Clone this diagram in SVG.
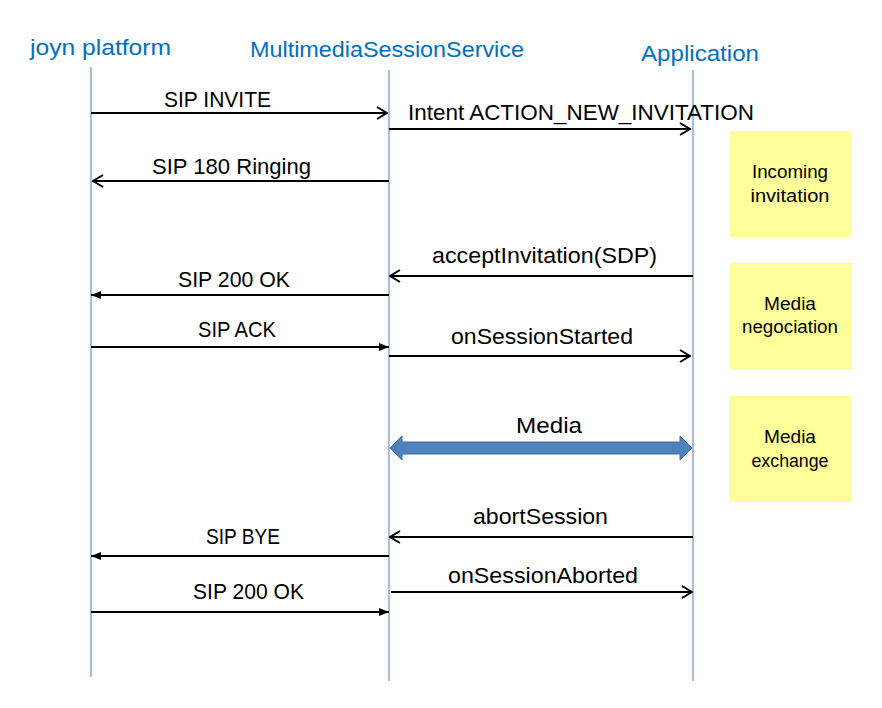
<svg xmlns="http://www.w3.org/2000/svg" width="882" height="708" viewBox="0 0 882 708">
<style>
.title{font-family:"Liberation Sans",Arial,sans-serif;font-size:21.5px;fill:#0070C0}
.lbl{font-family:"Liberation Sans",Arial,sans-serif;font-size:22.5px;fill:#000}
.box{fill:#FFFF99}
.btxt{font-family:"Liberation Sans",Arial,sans-serif;font-size:17.5px;fill:#000;text-anchor:middle}
.life{stroke:#4A7EBB;stroke-width:1;fill:none}
.msg{stroke:#000;stroke-width:2;fill:none}
.open{marker-end:url(#open)}
.fill{marker-end:url(#solid)}
</style>
<defs>
<marker id="open" viewBox="0 0 12 14" refX="11" refY="7" markerWidth="12" markerHeight="14" markerUnits="userSpaceOnUse" orient="auto">
<path d="M1,1 L11,7 L1,13" fill="none" stroke="#000" stroke-width="2"/>
</marker>
<marker id="solid" viewBox="0 0 10 10" refX="10" refY="5" markerWidth="10" markerHeight="10" markerUnits="userSpaceOnUse" orient="auto">
<path d="M0,1 L10,5 L0,9 Z" fill="#000"/>
</marker>
</defs>
<rect width="882" height="708" fill="#fff"/>
<g id="joyn">
<text class="title" x="30" y="55" textLength="141" lengthAdjust="spacingAndGlyphs">joyn platform</text>
<line class="life" x1="91" y1="67" x2="91" y2="677"/>
</g>
<g id="mss">
<text class="title" x="250" y="57" textLength="274" lengthAdjust="spacingAndGlyphs">MultimediaSessionService</text>
<line class="life" x1="389" y1="70" x2="389" y2="681"/>
</g>
<g id="app">
<text class="title" x="641" y="61" textLength="118" lengthAdjust="spacingAndGlyphs">Application</text>
<line class="life" x1="693" y1="70" x2="693" y2="681"/>
</g>
<g id="note-incoming">
<rect class="box" x="730" y="131" width="121" height="106"/>
<text class="btxt" x="790" y="178" textLength="76" lengthAdjust="spacingAndGlyphs">Incoming</text>
<text class="btxt" x="790" y="202" textLength="79" lengthAdjust="spacingAndGlyphs">invitation</text>
</g>
<g id="note-negociation">
<rect class="box" x="730" y="263" width="121" height="106"/>
<text class="btxt" x="790" y="310" textLength="52" lengthAdjust="spacingAndGlyphs">Media</text>
<text class="btxt" x="790" y="333" textLength="96" lengthAdjust="spacingAndGlyphs">negociation</text>
</g>
<g id="note-exchange">
<rect class="box" x="729" y="396" width="122" height="106"/>
<text class="btxt" x="790" y="443" textLength="52" lengthAdjust="spacingAndGlyphs">Media</text>
<text class="btxt" x="790" y="467" textLength="77" lengthAdjust="spacingAndGlyphs">exchange</text>
</g>
<g id="connectors">
<line class="msg open" x1="91" y1="113" x2="387" y2="113"/>
<text class="lbl" x="164" y="107" textLength="107" lengthAdjust="spacingAndGlyphs">SIP INVITE</text>
<line class="msg open" x1="389" y1="129" x2="690" y2="129"/>
<text class="lbl" x="408" y="120" textLength="346" lengthAdjust="spacingAndGlyphs">Intent ACTION_NEW_INVITATION</text>
<line class="msg open" x1="389" y1="181" x2="93" y2="181"/>
<text class="lbl" x="152" y="174" textLength="159" lengthAdjust="spacingAndGlyphs">SIP 180 Ringing</text>
<line class="msg open" x1="693" y1="276" x2="390" y2="276"/>
<text class="lbl" x="432" y="263" textLength="225" lengthAdjust="spacingAndGlyphs">acceptInvitation(SDP)</text>
<line class="msg fill" x1="389" y1="295" x2="91" y2="295"/>
<text class="lbl" x="178" y="287" textLength="112" lengthAdjust="spacingAndGlyphs">SIP 200 OK</text>
<line class="msg fill" x1="91" y1="347" x2="389" y2="347"/>
<text class="lbl" x="198" y="337" textLength="78" lengthAdjust="spacingAndGlyphs">SIP ACK</text>
<line class="msg open" x1="389" y1="356" x2="690" y2="356"/>
<text class="lbl" x="451" y="344" textLength="182" lengthAdjust="spacingAndGlyphs">onSessionStarted</text>
<path d="M390,448 L402,436 L402,442 L680,442 L680,436 L692,448 L680,460 L680,454 L402,454 L402,460 Z" fill="#4F81BD" stroke="#3F6FA8" stroke-width="1"/>
<text class="lbl" x="516" y="433" textLength="66" lengthAdjust="spacingAndGlyphs">Media</text>
<line class="msg open" x1="693" y1="537" x2="390" y2="537"/>
<text class="lbl" x="473" y="524" textLength="135" lengthAdjust="spacingAndGlyphs">abortSession</text>
<line class="msg fill" x1="389" y1="556" x2="91" y2="556"/>
<text class="lbl" x="206" y="544" textLength="74" lengthAdjust="spacingAndGlyphs">SIP BYE</text>
<line class="msg open" x1="391" y1="592" x2="692" y2="592"/>
<text class="lbl" x="448" y="583" textLength="190" lengthAdjust="spacingAndGlyphs">onSessionAborted</text>
<line class="msg fill" x1="91" y1="612" x2="389" y2="612"/>
<text class="lbl" x="193" y="599" textLength="111" lengthAdjust="spacingAndGlyphs">SIP 200 OK</text>
</g>
</svg>
